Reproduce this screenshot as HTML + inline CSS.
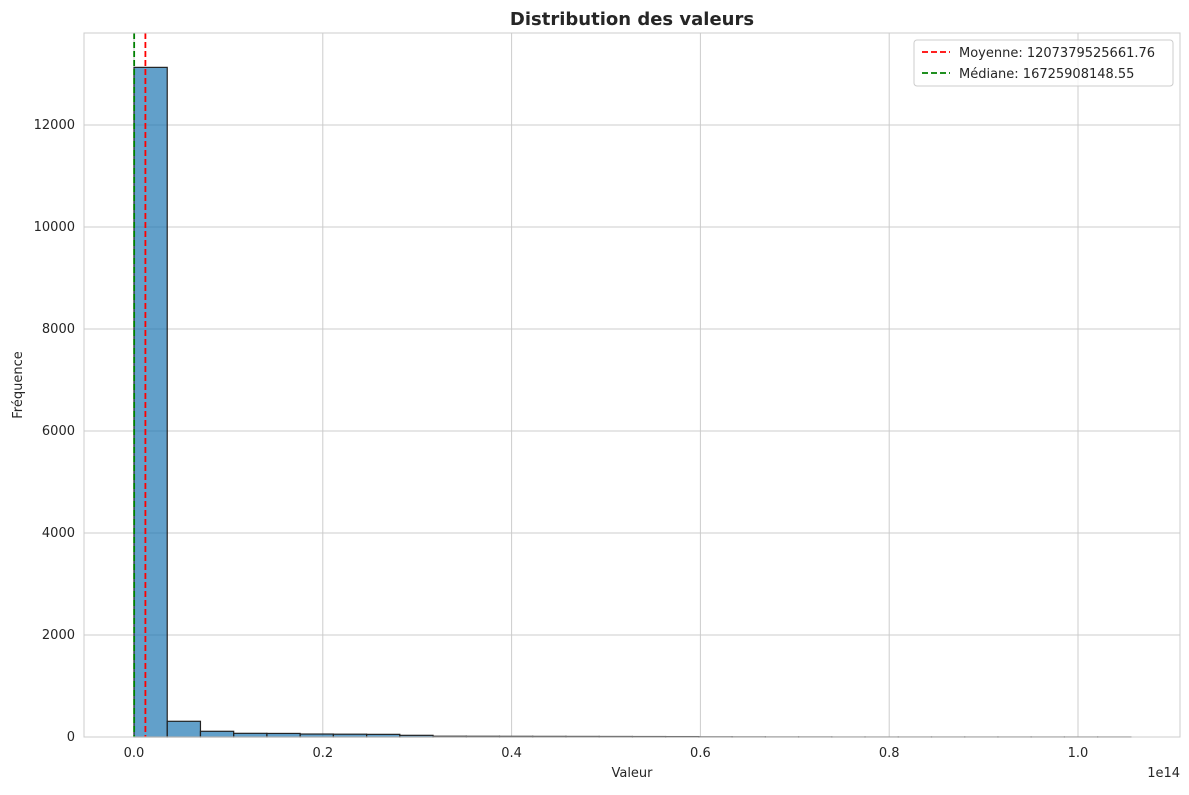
<!DOCTYPE html>
<html><head><meta charset="utf-8"><style>
body{margin:0;background:#fff;font-family:"Liberation Sans","DejaVu Sans",sans-serif;}
svg text{font-family:"DejaVu Sans","Liberation Sans",sans-serif;fill:#262626;}
</style></head><body>
<svg id="c" width="1189" height="790"></svg>
<script>
const binStart=0, binWidth=0.0352; // in units of 1e14
const counts=[13130,308,112,72,70,58,55,52,33,15,14,13,12,11,10,9,8,4,3,2,2,1,1,1,1,1,1,1,1,1];
const yTicks=[0,2000,4000,6000,8000,10000,12000];
const xTicks=[0,0.2,0.4,0.6,0.8,1.0];
const xTickLabels=["0.0","0.2","0.4","0.6","0.8","1.0"];
const meanVal=0.01207379525661776, medianVal=0.00016725908148;
const L=84,R=1180,T=33,B=737;
const X=v=>134+v*944, Y=v=>737-v*0.051;
const svg=document.getElementById('c');const NS='http://www.w3.org/2000/svg';
function mk(t,a,p){const e=document.createElementNS(NS,t);for(const k in a)e.setAttribute(k,a[k]);(p||svg).appendChild(e);return e;}
// grid
yTicks.forEach(v=>{const l=mk('line',{x1:L,x2:R,y1:Y(v),y2:Y(v),stroke:'#cccccc','stroke-width':1});


const t=mk('text',{x:L-9,y:Y(v)+4,'text-anchor':'end','font-size':13});t.textContent=v;

});
xTicks.forEach((v,i)=>{const l=mk('line',{x1:X(v),x2:X(v),y1:T,y2:B,stroke:'#cccccc','stroke-width':1});


const t=mk('text',{x:X(v),y:B+20,'text-anchor':'middle','font-size':13});t.textContent=xTickLabels[i];

});
// bars
counts.forEach((c,i)=>{const x0=X(binStart+i*binWidth),x1=X(binStart+(i+1)*binWidth);
const r=mk('rect',{x:x0,y:Y(c),width:x1-x0,height:B-Y(c),fill:'rgba(31,119,180,0.7)',stroke:'#222','stroke-width':1.2});

});
// lines
const m=mk('line',{x1:X(meanVal),x2:X(meanVal),y1:T,y2:B,stroke:'#ff0000','stroke-width':1.8,'stroke-dasharray':'6,3'});


const md=mk('line',{x1:X(medianVal),x2:X(medianVal),y1:T,y2:B,stroke:'#008000','stroke-width':1.8,'stroke-dasharray':'6,3'});


// frame
mk('rect',{x:L,y:T,width:R-L,height:B-T,fill:'none',stroke:'#cccccc','stroke-width':1});
</script>
<div style="position:absolute;left:0;top:7;width:1263px;"></div>
<svg width="1189" height="790" style="position:absolute;left:0;top:0">
<text x="632" y="25" text-anchor="middle" font-size="18" font-weight="bold">Distribution des valeurs</text>
<text x="632" y="777" text-anchor="middle" font-size="13">Valeur</text>
<text x="1180" y="777" text-anchor="end" font-size="13">1e14</text>
<text transform="translate(22,385) rotate(-90)" text-anchor="middle" font-size="13">Fréquence</text>
<g>
<rect x="914" y="40" width="259" height="46" rx="3" fill="#fff" fill-opacity="0.8" stroke="#cccccc"/>
<line x1="922" x2="950" y1="52" y2="52" stroke="#ff0000" stroke-width="1.8" stroke-dasharray="6,3"/>
<text x="959" y="57" font-size="13">Moyenne: 1207379525661.76</text>
<line x1="922" x2="950" y1="73" y2="73" stroke="#008000" stroke-width="1.8" stroke-dasharray="6,3"/>
<text x="959" y="78" font-size="13">Médiane: 16725908148.55</text>
</g>
</svg>
</body></html>
